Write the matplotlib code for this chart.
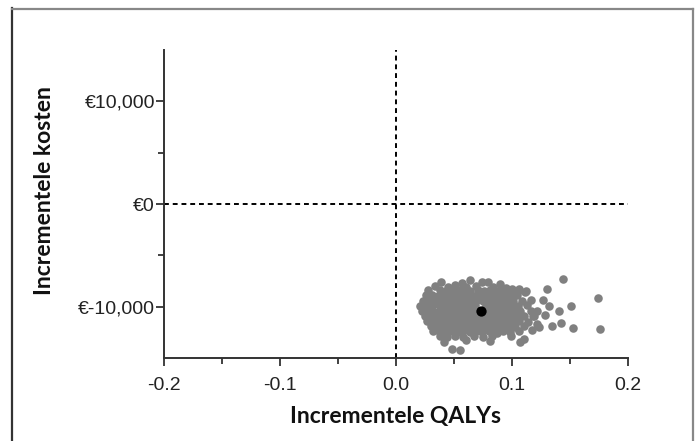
import matplotlib
matplotlib.use("Agg")
import matplotlib.pyplot as plt
from matplotlib.lines import Line2D

# probabilistic sensitivity analysis draws (incremental QALYs, incremental costs)
psa_draws = [
    # top edge
    (0.039, -7560), (0.057, -7720), (0.064, -7450), (0.074, -7560), (0.079, -7640), (0.090, -7800),
    (0.034, -7950), (0.045, -8050), (0.051, -7900), (0.060, -8100), (0.069, -7980), (0.084, -8050),
    (0.095, -8150), (0.100, -8280),
    # core rows
    (0.028, -8400), (0.038, -8350), (0.043, -8450), (0.048, -8380), (0.054, -8420), (0.059, -8330),
    (0.064, -8460), (0.071, -8380), (0.076, -8440), (0.081, -8350), (0.087, -8470), (0.092, -8400),
    (0.098, -8520), (0.105, -8430), (0.111, -8560),
    (0.026, -8900), (0.031, -8850), (0.036, -8950), (0.041, -8880), (0.046, -8920), (0.051, -8860),
    (0.057, -8940), (0.062, -8870), (0.067, -8930), (0.072, -8850), (0.077, -8960), (0.083, -8890),
    (0.088, -8940), (0.093, -8870), (0.099, -8980), (0.104, -8900),
    (0.023, -9400), (0.028, -9350), (0.034, -9450), (0.039, -9380), (0.044, -9420), (0.049, -9360),
    (0.054, -9440), (0.060, -9370), (0.065, -9430), (0.070, -9350), (0.075, -9460), (0.080, -9390),
    (0.086, -9440), (0.091, -9370), (0.096, -9480), (0.101, -9400), (0.109, -9450),
    (0.021, -9900), (0.026, -9850), (0.031, -9950), (0.037, -9880), (0.042, -9920), (0.047, -9860),
    (0.052, -9940), (0.057, -9870), (0.063, -9930), (0.068, -9850), (0.078, -9890), (0.083, -9940),
    (0.088, -9870), (0.094, -9980), (0.099, -9900), (0.105, -9950), (0.113, -9880),
    (0.022, -10400), (0.027, -10350), (0.032, -10450), (0.038, -10380), (0.043, -10420), (0.048, -10360),
    (0.053, -10440), (0.058, -10370), (0.064, -10430), (0.069, -10350), (0.080, -10390), (0.085, -10440),
    (0.090, -10370), (0.096, -10480), (0.101, -10400), (0.107, -10450), (0.116, -10380),
    (0.025, -10900), (0.030, -10850), (0.035, -10950), (0.041, -10880), (0.046, -10920), (0.051, -10860),
    (0.056, -10940), (0.062, -10870), (0.067, -10930), (0.072, -10850), (0.077, -10960), (0.082, -10890),
    (0.088, -10940), (0.093, -10870), (0.098, -10980), (0.104, -10900), (0.110, -10950), (0.118, -10880),
    (0.027, -11400), (0.032, -11350), (0.037, -11450), (0.043, -11380), (0.048, -11420), (0.053, -11360),
    (0.058, -11440), (0.063, -11370), (0.069, -11430), (0.074, -11350), (0.079, -11460), (0.084, -11390),
    (0.090, -11440), (0.095, -11370), (0.100, -11480), (0.106, -11400), (0.114, -11450),
    (0.030, -11900), (0.035, -11850), (0.040, -11950), (0.045, -11880), (0.051, -11920), (0.056, -11860),
    (0.061, -11940), (0.066, -11870), (0.072, -11930), (0.077, -11850), (0.082, -11960), (0.087, -11890),
    (0.093, -11940), (0.098, -11870), (0.103, -11980), (0.110, -11900),
    (0.032, -12400), (0.037, -12350), (0.043, -12450), (0.048, -12380), (0.053, -12420), (0.058, -12360),
    (0.064, -12440), (0.069, -12370), (0.074, -12430), (0.080, -12350), (0.086, -12460), (0.092, -12390),
    (0.098, -12440), (0.106, -12380),
    # bottom edge
    (0.038, -12900), (0.044, -12950), (0.051, -12850), (0.058, -12980), (0.067, -12900), (0.075, -12920),
    (0.083, -12850), (0.087, -12600), (0.099, -12860),
    (0.041, -13450), (0.060, -13200), (0.081, -13350), (0.107, -13400), (0.110, -13180),
    (0.048, -14150), (0.055, -14210),
    # right-hand tail
    (0.1437, -7267), (0.1744, -9138), (0.1299, -8237), (0.1506, -9981), (0.1403, -10436),
    (0.1270, -9370), (0.1316, -9952), (0.1425, -11599), (0.1345, -11919), (0.1528, -12045),
    (0.1761, -12210), (0.1218, -11725), (0.1230, -12016), (0.1282, -10824), (0.1213, -10436),
    (0.1121, -8498), (0.1063, -8237), (0.1160, -9350), (0.1190, -10950), (0.1175, -12300),
]
psa_qaly = [d[0] for d in psa_draws]
psa_cost = [d[1] for d in psa_draws]

mean_qaly = 0.073
mean_cost = -10400

x_ticks = [-0.2, -0.1, 0.0, 0.1, 0.2]
x_tick_labels = ["-0.2", "-0.1", "0.0", "0.1", "0.2"]
y_ticks = [-10000, 0, 10000]
y_tick_labels = ["€-10,000", "€0", "€10,000"]

plt.rcParams['font.family'] = ['Liberation Sans', 'DejaVu Sans']

fig = plt.figure(figsize=(6.97, 4.41), dpi=100)
ax = fig.add_axes([164 / 697, 1 - 358 / 441, (628 - 164) / 697, (358 - 50) / 441])

ax.scatter(psa_qaly, psa_cost, s=38, color='#808080', linewidths=0, zorder=2)
ax.scatter([mean_qaly], [mean_cost], s=55, color='black', linewidths=0, zorder=3)

ax.axvline(0, color='black', lw=1.4, ls=(0, (2.5, 2)), zorder=1)
ax.axhline(0, color='black', lw=1.4, ls=(0, (2.5, 2)), zorder=1)

ax.set_xlim(-0.2, 0.2)
ax.set_ylim(-15000, 15000)
ax.set_xticks(x_ticks)
ax.set_xticklabels(x_tick_labels)
ax.set_xticks([-0.15, -0.05, 0.05, 0.15], minor=True)
ax.set_yticks(y_ticks)
ax.set_yticklabels(y_tick_labels)
ax.set_yticks([-5000, 5000], minor=True)

for s in ['top', 'right']:
    ax.spines[s].set_visible(False)
for s in ['left', 'bottom']:
    ax.spines[s].set_color('#333333')
    ax.spines[s].set_linewidth(1.4)

ax.tick_params(axis='both', which='major', length=6, width=1.3, color='#333333',
               labelsize=14, labelcolor='#222222')
ax.tick_params(axis='both', which='minor', length=4, width=1.3, color='#333333')
ax.tick_params(axis='x', which='major', pad=8)
ax.tick_params(axis='y', which='major', pad=0.5)

fig.text(396 / 697, 1 - 423 / 441, "Incrementele QALYs", ha='center', va='baseline',
         fontsize=16.5, fontweight='bold', family=['Lato', 'DejaVu Sans'], color='#111111')
fig.text(45 / 697, 1 - 191 / 441, "Incrementele kosten", ha='center', va='center', rotation=90,
         fontsize=16.5, fontweight='bold', family=['Lato', 'DejaVu Sans'], color='#111111')

# outer frame of the original figure
fig.add_artist(Line2D([12 / 697, 12 / 697], [0, 1 - 8 / 441], transform=fig.transFigure,
                      color='#333333', lw=1.6))
fig.add_artist(Line2D([12 / 697, 693 / 697], [1 - 9 / 441, 1 - 9 / 441], transform=fig.transFigure,
                      color='#888888', lw=1.6))
fig.add_artist(Line2D([693 / 697, 693 / 697], [0, 1 - 9 / 441], transform=fig.transFigure,
                      color='#888888', lw=1.6))

fig.savefig("out.png", dpi=100)
